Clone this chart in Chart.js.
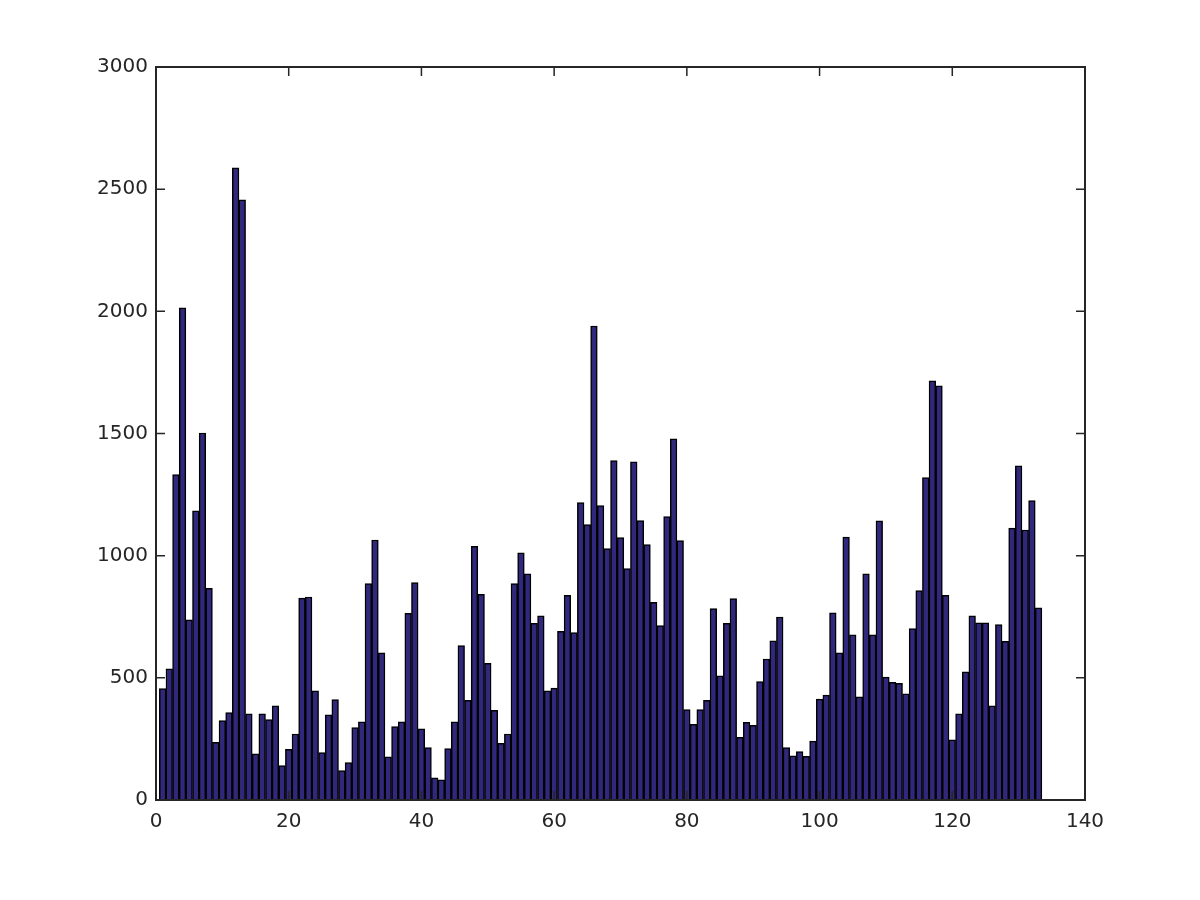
<!DOCTYPE html>
<html>
<head>
<meta charset="utf-8">
<script src="https://cdn.jsdelivr.net/npm/chart.js@4/dist/chart.umd.min.js"></script>
<style>
html,body{margin:0;padding:0;background:#fff;}
#wrap{width:1200px;height:900px;position:relative;}
</style>
</head>
<body>
<div id="wrap"><canvas id="c" width="1200" height="900"></canvas></div>
<script>
const categories = [1,2,3,4,5,6,7,8,9,10,11,12,13,14,15,16,17,18,19,20,
21,22,23,24,25,26,27,28,29,30,31,32,33,34,35,36,37,38,39,40,
41,42,43,44,45,46,47,48,49,50,51,52,53,54,55,56,57,58,59,60,
61,62,63,64,65,66,67,68,69,70,71,72,73,74,75,76,77,78,79,80,
81,82,83,84,85,86,87,88,89,90,91,92,93,94,95,96,97,98,99,100,
101,102,103,104,105,106,107,108,109,110,111,112,113,114,115,116,117,118,119,120,
121,122,123,124,125,126,127,128,129,130,131,132,133];

const values = [456,537,1332,2014,737,1184,1502,866,236,325,
358,2587,2456,353,189,353,329,385,141,207,
270,826,831,447,194,349,411,120,153,296,
320,886,1064,602,177,301,320,764,890,291,
215,91,83,210,320,632,408,1038,842,559,
367,232,270,886,1012,926,723,754,447,458,
690,838,685,1217,1127,1940,1205,1029,1389,1074,
947,1384,1144,1045,809,714,1160,1478,1062,370,
310,370,408,783,508,723,824,256,318,306,
485,577,651,749,215,181,198,179,241,413,
429,766,602,1076,676,422,926,676,1143,503,
482,477,435,702,857,1320,1716,1695,838,246,
353,525,754,725,725,385,718,649,1113,1368,
1105,1225,786];

const xTicks = [0,20,40,60,80,100,120,140];
const yTicks = [0,500,1000,1500,2000,2500,3000];

const AXIS = '#262626';

const boxPlugin = {
  id: 'boxPlugin',
  afterDatasetsDraw(chart) {
    const {ctx, chartArea: a, scales: {x, y}} = chart;
    ctx.save();
    ctx.strokeStyle = AXIS;
    ctx.lineWidth = 1.5;
    const L = 9;
    ctx.beginPath();
    xTicks.forEach(t => {
      const px = x.getPixelForValue(t);
      ctx.moveTo(px, a.bottom); ctx.lineTo(px, a.bottom - L);
      ctx.moveTo(px, a.top); ctx.lineTo(px, a.top + L);
    });
    yTicks.forEach(t => {
      const py = y.getPixelForValue(t);
      ctx.moveTo(a.left, py); ctx.lineTo(a.left + L, py);
      ctx.moveTo(a.right, py); ctx.lineTo(a.right - L, py);
    });
    ctx.stroke();
    ctx.lineWidth = 2;
    ctx.strokeRect(a.left, a.top, a.right - a.left, a.bottom - a.top);
    ctx.restore();
  }
};

new Chart(document.getElementById('c'), {
  type: 'bar',
  data: {
    datasets: [{
      data: categories.map((c, i) => ({x: c, y: values[i]})),
      backgroundColor: '#30287c',
      borderColor: '#000000',
      borderWidth: 1.5,
      barPercentage: 1.0,
      categoryPercentage: 1.0
    }]
  },
  options: {
    responsive: false,
    animation: false,
    devicePixelRatio: 1,
    layout: {padding: {left: 0, top: 67, right: 115, bottom: 0}},
    plugins: {legend: {display: false}, tooltip: {enabled: false}},
    scales: {
      x: {
        type: 'linear',
        min: 0, max: 140,
        offset: false,
        afterBuildTicks: s => { s.ticks = xTicks.map(v => ({value: v})); },
        afterFit: s => { s.height = 100; },
        grid: {display: false, drawTicks: false},
        border: {display: false},
        ticks: {color: AXIS, font: {family: 'DejaVu Sans', size: 20}, padding: 10, maxRotation: 0,
                callback: v => String(v)}
      },
      y: {
        min: 0, max: 3000,
        afterBuildTicks: s => { s.ticks = yTicks.map(v => ({value: v})); },
        afterFit: s => { s.width = 156; },
        grid: {display: false, drawTicks: false},
        border: {display: false},
        ticks: {color: AXIS, font: {family: 'DejaVu Sans', size: 20}, padding: 8,
                callback: v => String(v)}
      }
    }
  },
  plugins: [boxPlugin]
});
</script>
</body>
</html>
